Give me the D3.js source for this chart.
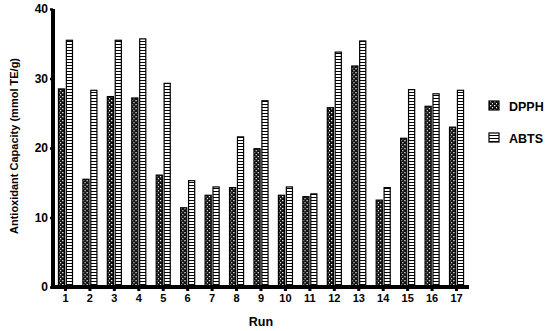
<!DOCTYPE html>
<html>
<head>
<meta charset="utf-8">
<script src="https://cdn.jsdelivr.net/npm/d3@7"></script>
<style>
  body { margin: 0; background: #fff; }
  text { font-family: "Liberation Sans", Arial, sans-serif; font-weight: bold; }
</style>
</head>
<body>
<div id="chart"></div>
<script>
// data
const runs = ["1","2","3","4","5","6","7","8","9","10","11","12","13","14","15","16","17"];
const dpph = [28.5, 15.5, 27.4, 27.2, 16.1, 11.4, 13.2, 14.3, 19.9, 13.2, 13.0, 25.8, 31.8, 12.5, 21.4, 26.0, 23.0];
const abts = [35.5, 28.3, 35.5, 35.7, 29.3, 15.3, 14.4, 21.6, 26.8, 14.4, 13.4, 33.8, 35.4, 14.3, 28.4, 27.8, 28.3];
const seriesNames = ["DPPH", "ABTS"];
const yTicks = [0, 10, 20, 30, 40];

const W = 550, H = 331;
const plot = {left: 53, right: 469, top: 9, bottom: 287};

const svg = d3.select("#chart").append("svg")
    .attr("width", W)
    .attr("height", H);

// patterns
const defs = svg.append("defs");
const dots = defs.append("pattern")
    .attr("id", "pDots")
    .attr("patternUnits", "userSpaceOnUse")
    .attr("width", 4).attr("height", 4);
dots.append("rect").attr("width", 4).attr("height", 4).attr("fill", "#111");
dots.append("rect").attr("x", 1).attr("y", 0).attr("width", 1.3).attr("height", 1.3).attr("fill", "#fff");
dots.append("rect").attr("x", 3).attr("y", 2).attr("width", 1.3).attr("height", 1.3).attr("fill", "#fff");

const lines = defs.append("pattern")
    .attr("id", "pLines")
    .attr("patternUnits", "userSpaceOnUse")
    .attr("width", 3).attr("height", 3);
lines.append("rect").attr("width", 3).attr("height", 3).attr("fill", "#fff");
lines.append("rect").attr("y", 2).attr("width", 3).attr("height", 1).attr("fill", "#000");

const fills = {DPPH: "url(#pDots)", ABTS: "url(#pLines)"};

const x0 = d3.scaleBand().domain(runs).range([plot.left, plot.right]).paddingInner(0.32).paddingOuter(0.17);
const x1 = d3.scaleBand().domain(seriesNames).range([0, x0.bandwidth()]).padding(0.1);
const y = d3.scaleLinear().domain([0, 40]).range([plot.bottom, plot.top]);

const rows = runs.map((r, i) => ({run: r, DPPH: dpph[i], ABTS: abts[i]}));

// bars
svg.append("g")
  .selectAll("g")
  .data(rows)
  .enter().append("g")
    .attr("transform", d => "translate(" + x0(d.run) + ",0)")
  .selectAll("rect")
  .data(d => seriesNames.map(k => ({key: k, value: d[k]})))
  .enter().append("rect")
    .attr("x", d => x1(d.key) + 0.5)
    .attr("y", d => y(d.value))
    .attr("width", x1.bandwidth() - 1)
    .attr("height", d => y(0) - y(d.value))
    .attr("fill", d => fills[d.key])
    .attr("stroke", "#000")
    .attr("stroke-width", 1.2);

// y axis
const yAxis = svg.append("g")
    .attr("transform", "translate(" + plot.left + ",0)")
    .call(d3.axisLeft(y).tickValues(yTicks).tickSize(3).tickPadding(2));
yAxis.select(".domain").attr("stroke-width", 4).attr("d", "M0," + (plot.bottom + 2) + "V" + plot.top);
yAxis.selectAll(".tick line").attr("stroke-width", 2.5);
yAxis.selectAll("text").attr("font-size", 12).attr("fill", "#000");

// x axis
const xAxis = svg.append("g")
    .attr("transform", "translate(0," + plot.bottom + ")")
    .call(d3.axisBottom(x0).tickSize(4).tickPadding(3));
xAxis.select(".domain").attr("stroke-width", 4).attr("d", "M" + (plot.left - 2) + ",0H" + plot.right);
xAxis.selectAll(".tick line").attr("stroke-width", 3);
xAxis.selectAll("text").attr("font-size", 11).attr("fill", "#000");

// axis titles
svg.append("text")
    .attr("x", (plot.left + plot.right) / 2)
    .attr("y", 326)
    .attr("text-anchor", "middle")
    .attr("font-size", 12.5)
    .text("Run");

svg.append("text")
    .attr("transform", "translate(17.5,146) rotate(-90)")
    .attr("text-anchor", "middle")
    .attr("font-size", 11)
    .text("Antioxidant Capacity (mmol TE/g)");

// legend
const legend = svg.append("g").attr("transform", "translate(489,101)");
seriesNames.forEach((name, i) => {
  const g = legend.append("g").attr("transform", "translate(0," + (i * 32) + ")");
  g.append("rect")
      .attr("width", 10).attr("height", 9)
      .attr("fill", fills[name])
      .attr("stroke", "#000").attr("stroke-width", 1.2);
  g.append("text")
      .attr("x", 20).attr("y", 9.5)
      .attr("font-size", 12.5)
      .text(name);
});
</script>
</body>
</html>
